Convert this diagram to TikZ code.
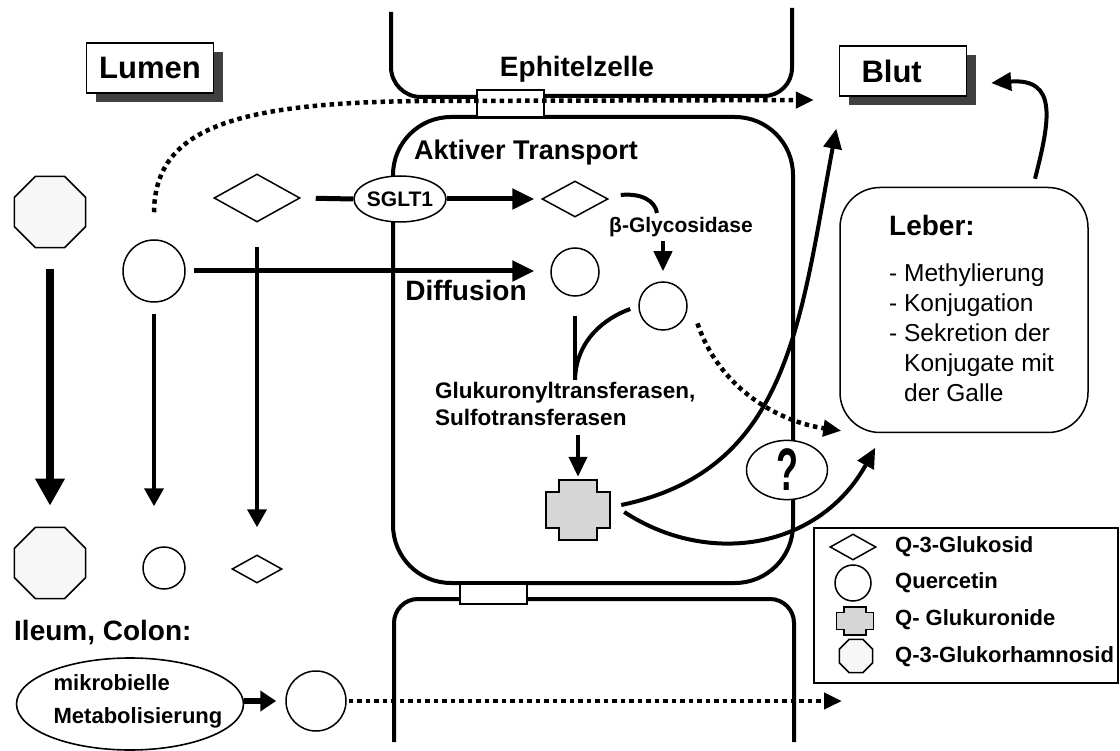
\documentclass[tikz,border=0pt]{standalone}
\usepackage{fontspec}
\setmainfont{Liberation Sans}
\usetikzlibrary{arrows.meta,shapes.geometric,shadows}
\def\glukcross(#1)(#2:#3){\draw[crossfill,shift={(#1)},xscale=#2,yscale=#3] (-19,-30) -- (19,-30) -- (19,-18) -- (32,-18) -- (32,18) -- (19,18) -- (19,30) -- (-19,30) -- (-19,18) -- (-32,18) -- (-32,-18) -- (-19,-18) -- cycle;}

\tikzset{
	membrane/.style={line width=4pt},
	junction/.style={line width=1.4pt, fill=white},
	titlebox/.style={draw, line width=1.4pt, fill=white, minimum width=127pt, minimum height=50pt, inner sep=0pt, font=\fontsize{31}{37}\selectfont\bfseries, drop shadow={shadow xshift=9pt, shadow yshift=-9pt, fill=black!75, opacity=1}},
	bigtext/.style={inner sep=0pt, font=\fontsize{28}{34}\selectfont\bfseries},
	midtext/.style={inner sep=0pt, font=\fontsize{21.5}{27}\selectfont\bfseries},
	legtext/.style={inner sep=0pt, anchor=west, font=\fontsize{22}{26}\selectfont\bfseries},
	listtext/.style={inner sep=0pt, font=\fontsize{24.5}{30}\selectfont},
	octagon/.style={regular polygon, regular polygon sides=8, draw, line width=1.5pt, fill=black!3, minimum size=77pt, inner sep=0pt},
	quercetin/.style={circle, draw, line width=1.5pt, fill=white, inner sep=0pt},
	glukosid/.style={diamond, draw, line width=1.5pt, fill=white, inner sep=0pt},
	oval/.style={ellipse, draw, line width=1.5pt, fill=white, inner sep=0pt},
	crossfill/.style={line width=1.5pt, fill=black!16},
	flow/.style={line width=5pt, -{Triangle[length=22pt,width=20pt]}},
	downflow/.style={line width=4pt, -{Triangle[length=18pt,width=19pt]}},
	bigflow/.style={line width=8pt, -{Triangle[length=27pt,width=28pt]}},
	cellflow/.style={line width=4pt, -{Triangle[length=20pt,width=18pt]}},
	dotflow/.style={line width=4.5pt, dash pattern=on 4.5pt off 4pt, -{Triangle[length=18pt,width=16pt]}},
}

\begin{document}
\begin{tikzpicture}[x=1pt, y=-1pt]
	%%%%% START %%%%%
	\useasboundingbox (0,0) rectangle (1120,751);
	
	% cell membranes
	\draw[membrane, rounded corners=30pt] (391,12) -- (391,97) -- (477,97);
	\draw[membrane, rounded corners=28pt] (544,96) -- (792,96) -- (792,8);
	\draw[membrane, rounded corners=58pt] (393,117) rectangle (793,583);
	\draw[membrane, rounded corners=24pt] (394,742) -- (394,599) -- (460,599);
	\draw[membrane, rounded corners=24pt] (527,599) -- (794,599) -- (794,742);
	\draw[junction] (477,90) rectangle (544,117);
	\draw[junction] (460,584) rectangle (527,604);
	
	% labels
	\node[titlebox] (lumen) at (150,68) {Lumen};
	\node[titlebox, text width=83pt, align=left] (blut) at (903,71) {Blut};
	\node[bigtext] (zelle) at (577,69) {Ephitelzelle};
	\node[bigtext, font=\fontsize{27}{32}\selectfont\bfseries] (aktiv) at (526,153) {Aktiver Transport};
	\node[bigtext] (diff) at (466,290) {Diffusion};
	\node[midtext, font=\fontsize{21}{27}\selectfont\bfseries] (glyco) at (681,227) {β-Glycosidase};
	\node[midtext, font=\fontsize{22.5}{27}\selectfont\bfseries, anchor=west, align=left] (transf) at (435,403.5) {Glukuronyltransferasen,\\Sulfotransferasen};
	\node[bigtext, anchor=west] (ileum) at (14,633) {Ileum, Colon:};
	
	% lumen
	\node[octagon] (okt1) at (50,212) {};
	\node[octagon] (okt2) at (50,563) {};
	\node[quercetin, minimum size=62pt] (q1) at (154,271) {};
	\node[quercetin, minimum size=42pt] (q4) at (164,568) {};
	\node[glukosid, minimum width=86pt, minimum height=48pt] (g1) at (257,198) {};
	\node[glukosid, minimum width=50pt, minimum height=28pt] (g3) at (257,569) {};
	
	\draw[bigflow, shorten <=21pt, shorten >=21pt] (okt1.south) -- (okt2.north);
	\draw[downflow, shorten <=11pt, shorten >=40pt] (q1.south) -- (q1.south |- q4.north);
	\draw[downflow, shorten <=24pt, shorten >=27pt] (g1.south) -- (g3.north);
	
	% enterocyte
	\node[oval, minimum width=92pt, minimum height=46pt, inner xsep=-3pt, font=\fontsize{21}{25}\selectfont\bfseries] (sglt) at (400,199) {SGLT1};
	\node[glukosid, minimum width=66pt, minimum height=36pt] (g2) at (575,199) {};
	\node[quercetin, minimum size=48pt] (q2) at (575,272) {};
	\node[quercetin, minimum size=48pt] (q3) at (663,306) {};
	\node[minimum width=64pt, minimum height=60pt, inner sep=0pt] (gluc) at (578,510) {};
	\glukcross(gluc)(1:1)
	\coordinate (umsatz) at (575,380);
	\coordinate (hakenende) at (657,213);
	
	\draw[line width=5pt, shorten <=15pt] (g1.east) -- (sglt.west);
	\draw[flow, shorten >=7pt] (sglt.east) -- (g2.west);
	\draw[flow, shorten <=8pt, shorten >=16pt] (q1.east) -- (q1.east -| q2.west);
	\draw[line width=4pt] ([xshift=12pt,yshift=4pt]g2.east) .. controls (640,193) and (655,200) .. (hakenende);
	\draw[cellflow, shorten >=10pt] ([yshift=40pt]q3.north) -- (q3.north);
	\draw[line width=4pt, shorten <=19pt] (q2.south) -- (umsatz);
	\draw[line width=4pt] ([xshift=-8pt,yshift=-3pt]q3.west) .. controls (605,318) and (576,340) .. (umsatz);
	\draw[cellflow, shorten >=3pt] ([yshift=45pt]gluc.north) -- (gluc.north);
	
	\node[oval, minimum width=81pt, minimum height=50pt, font=\fontsize{50}{50}\selectfont\bfseries] (frage) at (787,470) {\scalebox{0.72}[1.2]{?}};
	
	% liver
	\node[draw, line width=1.5pt, rounded corners=40pt, minimum width=248pt, minimum height=245pt] (leber) at (964,310) {};
	\node[bigtext, anchor=west] (lebertitel) at (889,225) {Leber:};
	\node[listtext, anchor=west, align=left] (leberliste) at (889,333) {- Methylierung\\- Konjugation\\- Sekretion der\\\phantom{- }Konjugate mit\\\phantom{- }der Galle};
	
	% routes to the blood
	\draw[dotflow] ([yshift=27pt]q1.north) .. controls (155,130) and (230,103) .. (420,101) -- ([xshift=-25pt,yshift=-29pt]blut.west);
	\draw[dotflow] ([xshift=13pt,yshift=-5pt]q3.-30) .. controls (720,390) and (780,422) .. ([xshift=2pt,yshift=2.5pt]leber.south west);
	\draw[cellflow] ([xshift=11pt,yshift=5pt]gluc.east) .. controls (790,470) and (800,320) .. ([xshift=-2.5pt,yshift=-32pt]blut.south west);
	\draw[cellflow] ([xshift=14pt,yshift=-2pt]gluc.east) .. controls (710,568) and (820,548) .. ([xshift=36pt,yshift=-14.5pt]leber.south west);
	\draw[cellflow] ([xshift=71pt,yshift=8pt]leber.north) .. controls (1050,120) and (1058,78) .. ([xshift=24pt,yshift=-12pt]blut.east);
	
	% colon
	\node[ellipse, draw, line width=1.6pt, minimum width=227pt, minimum height=92pt] (mikro) at (130,704) {};
	\node[midtext, font=\fontsize{22}{33}\selectfont\bfseries, align=left] (mikrotext) at (138,701) {mikrobielle\\Metabolisierung};
	\node[quercetin, minimum size=60pt] (q5) at (316,701) {};
	\coordinate (kolonende) at (842,701);
	\draw[line width=6pt, -{Triangle[length=16pt,width=20pt]}, shorten >=9pt] (mikro.east |- q5.west) -- (q5.west);
	\draw[dotflow, shorten <=2pt] (q5.east) -- (kolonende);
	
	% legend
	\node[draw, line width=1.6pt, minimum width=304pt, minimum height=155pt] (legende) at (966,605.5) {};
	\node[glukosid, minimum width=46pt, minimum height=26pt] (lg1) at (853,547) {};
	\node[quercetin, minimum size=36pt] (lg2) at (853,583) {};
	\node[minimum width=37pt, minimum height=28pt, inner sep=0pt] (lg3) at (855,621) {};
	\glukcross(lg3)(0.58:0.47)
	\node[octagon, minimum size=36pt] (lg4) at (856,656) {};
	\node[legtext] (lt1) at (895,547) {Q-3-Glukosid};
	\node[legtext] (lt2) at (895,583) {Quercetin};
	\node[legtext] (lt3) at (895,620) {Q- Glukuronide};
	\node[legtext] (lt4) at (895,657) {Q-3-Glukorhamnosid};
	
	%%%%% END %%%%%
\end{tikzpicture}
\end{document}
